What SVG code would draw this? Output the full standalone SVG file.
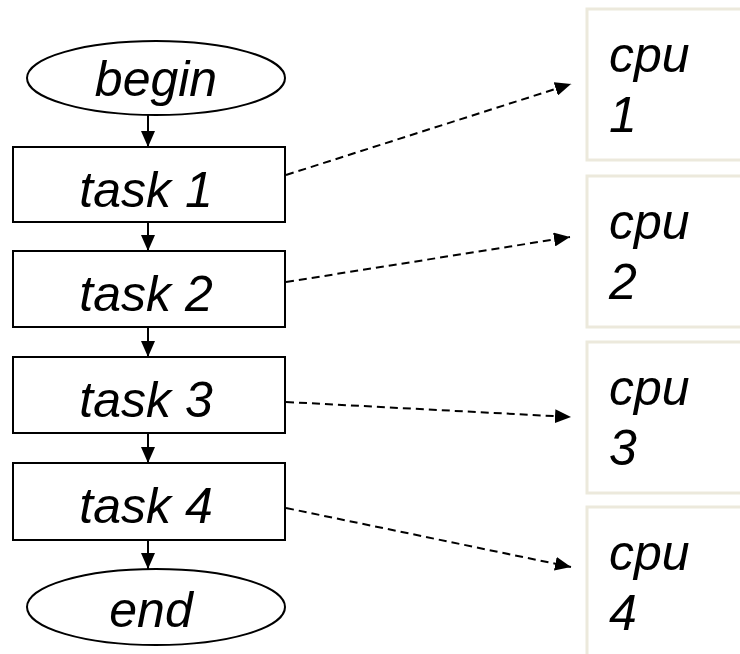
<svg xmlns="http://www.w3.org/2000/svg" width="740" height="654" viewBox="0 0 740 654">
<defs>
<marker id="ah" markerWidth="16" markerHeight="14" refX="16" refY="7" orient="auto" markerUnits="userSpaceOnUse"><path d="M0,0 L16,7 L0,14 Z" fill="#000"/></marker>
<marker id="av" markerWidth="16" markerHeight="14" refX="16" refY="7" orient="auto" markerUnits="userSpaceOnUse"><path d="M0,0 L16,7 L0,14 Z" fill="#000"/></marker>
<style>
.shape{fill:#fff;stroke:#000;stroke-width:2}
.cpu{fill:#fff;stroke:#ece9dc;stroke-width:3}
.t{font-family:"Liberation Sans",Arial,sans-serif;font-style:italic;font-size:50px;fill:#000}
.c{font-family:"Liberation Sans",Arial,sans-serif;font-style:italic;font-size:50px;fill:#000}
.flow{stroke:#000;stroke-width:2;fill:none;marker-end:url(#av)}
.dash{stroke:#000;stroke-width:2;fill:none;stroke-dasharray:8 5;marker-end:url(#ah)}
</style>
</defs>
<g id="cpu1"><rect class="cpu" x="587" y="9" width="170" height="151"/><text class="c" x="609" y="72">cpu</text><text class="c" x="609" y="132">1</text></g>
<g id="cpu2"><rect class="cpu" x="587" y="176" width="170" height="151"/><text class="c" x="609" y="239">cpu</text><text class="c" x="609" y="299">2</text></g>
<g id="cpu3"><rect class="cpu" x="587" y="342" width="170" height="151"/><text class="c" x="609" y="405">cpu</text><text class="c" x="609" y="465">3</text></g>
<g id="cpu4"><rect class="cpu" x="587" y="507" width="170" height="160"/><text class="c" x="609" y="570">cpu</text><text class="c" x="609" y="630">4</text></g>
<g id="begin"><ellipse class="shape" cx="156" cy="78" rx="129" ry="37"/><text class="t" x="156" y="96" text-anchor="middle">begin</text></g>
<g id="task1"><rect class="shape" x="13" y="147" width="272" height="75"/><text class="t" x="146" y="207" text-anchor="middle">task 1</text></g>
<g id="task2"><rect class="shape" x="13" y="251" width="272" height="76"/><text class="t" x="146" y="311" text-anchor="middle">task 2</text></g>
<g id="task3"><rect class="shape" x="13" y="357" width="272" height="76"/><text class="t" x="146" y="417" text-anchor="middle">task 3</text></g>
<g id="task4"><rect class="shape" x="13" y="463" width="272" height="77"/><text class="t" x="146" y="523" text-anchor="middle">task 4</text></g>
<g id="end"><ellipse class="shape" cx="156" cy="607" rx="129" ry="38"/><text class="t" x="151" y="627" text-anchor="middle">end</text></g>
<g id="connectors">
<line class="flow" x1="148" y1="115" x2="148" y2="147"/>
<line class="flow" x1="148" y1="222" x2="148" y2="251"/>
<line class="flow" x1="148" y1="327" x2="148" y2="357"/>
<line class="flow" x1="148" y1="433" x2="148" y2="463"/>
<line class="flow" x1="148" y1="540" x2="148" y2="569"/>
<line class="dash" x1="286" y1="175" x2="571" y2="84"/>
<line class="dash" x1="286" y1="282" x2="570" y2="237"/>
<line class="dash" x1="286" y1="402" x2="571" y2="417"/>
<line class="dash" x1="286" y1="508" x2="571" y2="567"/>
</g>
</svg>
